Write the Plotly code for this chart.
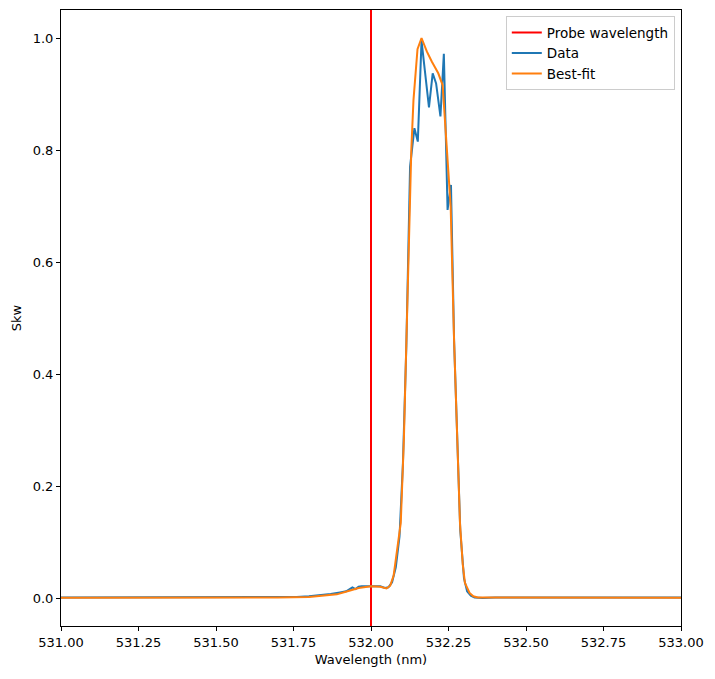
import plotly.graph_objects as go

probe_wavelength = 532.0
y_range = [-0.05, 1.05]

data_x = [531.00, 531.20, 531.40, 531.60, 531.70, 531.76, 531.80, 531.84, 531.87, 531.90,
          531.92, 531.94, 531.95, 531.96, 531.97, 531.99, 532.01, 532.03, 532.045, 532.056,
          532.068, 532.08, 532.092, 532.103, 532.114, 532.126, 532.14, 532.151, 532.163,
          532.187, 532.199, 532.21, 532.224, 532.235, 532.247, 532.258, 532.268, 532.278,
          532.288, 532.30, 532.31, 532.322, 532.334, 532.36, 532.40, 532.60, 533.00]
data_y = [0.001, 0.001, 0.001, 0.001, 0.001, 0.002, 0.003, 0.005, 0.007, 0.010,
          0.012, 0.019, 0.016, 0.020, 0.021, 0.021, 0.021, 0.021, 0.018, 0.019,
          0.028, 0.055, 0.11, 0.24, 0.45, 0.77, 0.839, 0.815, 0.995,
          0.876, 0.937, 0.919, 0.860, 0.972, 0.693, 0.7375, 0.46, 0.28,
          0.12, 0.035, 0.012, 0.004, 0.001, 0.000, 0.001, 0.001, 0.001]

fit_x = [531.00, 531.60, 531.70, 531.80, 531.85, 531.89, 531.93, 531.96, 532.00, 532.03,
         532.05, 532.062, 532.073, 532.085, 532.096, 532.106, 532.115, 532.1226, 532.13,
         532.137, 532.15, 532.163, 532.18, 532.196, 532.217, 532.231, 532.244, 532.257,
         532.268, 532.278, 532.287, 532.296, 532.303, 532.318, 532.33, 532.345, 533.00]
fit_y = [0.0005, 0.0005, 0.001, 0.002, 0.004, 0.0065, 0.013, 0.018, 0.021, 0.020,
         0.017, 0.022, 0.04, 0.09, 0.134, 0.282, 0.461, 0.65, 0.80,
         0.889, 0.98, 1.0, 0.976, 0.958, 0.937, 0.916, 0.812, 0.699,
         0.46, 0.28, 0.134, 0.06, 0.027, 0.009, 0.003, 0.001, 0.0005]

x_ticks = [531.00, 531.25, 531.50, 531.75, 532.00, 532.25, 532.50, 532.75, 533.00]
y_ticks = [0.0, 0.2, 0.4, 0.6, 0.8, 1.0]

fig = go.Figure()
fig.add_trace(go.Scatter(x=[probe_wavelength, probe_wavelength], y=y_range, mode="lines",
                         name="Probe wavelength", line=dict(color="red", width=2)))
fig.add_trace(go.Scatter(x=data_x, y=data_y, mode="lines", name="Data",
                         line=dict(color="#1f77b4", width=2)))
fig.add_trace(go.Scatter(x=fit_x, y=fit_y, mode="lines", name="Best-fit",
                         line=dict(color="#ff7f0e", width=2)))

axis_common = dict(showline=True, linecolor="black", linewidth=1, mirror=True,
                   ticks="outside", ticklen=4, tickcolor="black", showgrid=False,
                   zeroline=False, tickfont=dict(size=13, color="black"))

fig.update_layout(
    width=715, height=679,
    margin=dict(l=61, r=34, t=10, b=53),
    plot_bgcolor="white", paper_bgcolor="white",
    font=dict(family="DejaVu Sans", size=13, color="black"),
    xaxis=dict(range=[531.0, 533.0], tickvals=x_ticks,
               ticktext=[f"{v:.2f}" for v in x_ticks],
               title=dict(text="Wavelength (nm)", standoff=6, font=dict(size=13)),
               **axis_common),
    yaxis=dict(range=y_range, tickvals=y_ticks,
               ticktext=[f"{v:.1f}" for v in y_ticks],
               title=dict(text="Skw", standoff=8, font=dict(size=13)),
               **axis_common),
    legend=dict(x=0.990, y=0.990, xanchor="right", yanchor="top",
                bordercolor="#cccccc", borderwidth=1, bgcolor="rgba(255,255,255,0.8)",
                font=dict(size=13.5), tracegroupgap=0),
    showlegend=True,
)

fig.write_html("out.html")
